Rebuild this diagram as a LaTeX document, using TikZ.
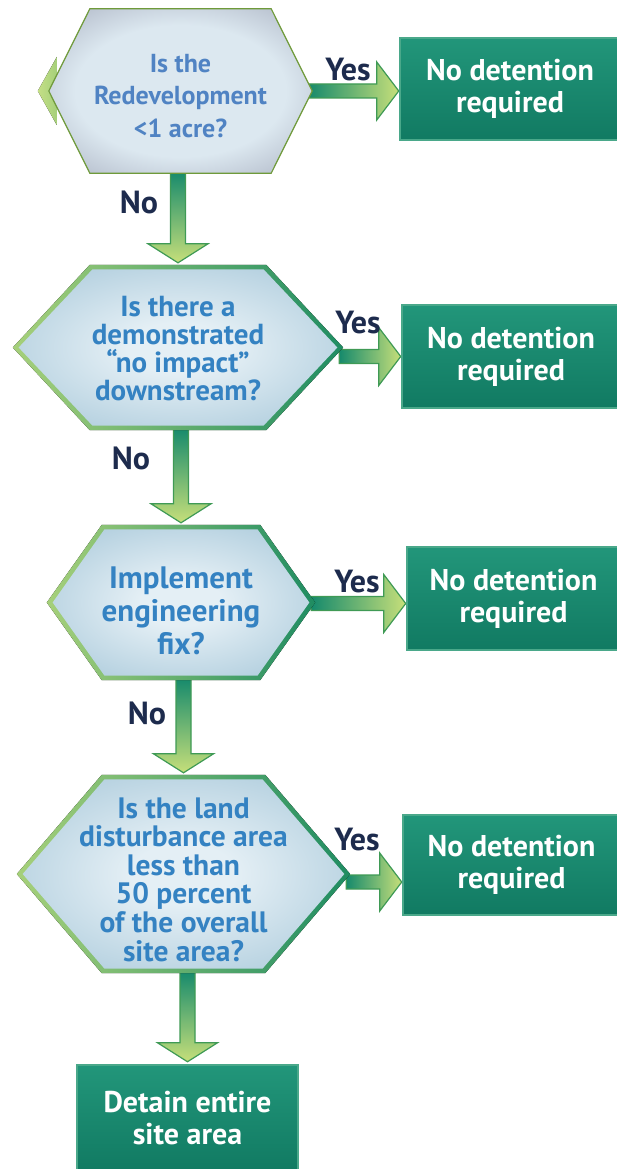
\documentclass[tikz,border=0pt]{standalone}
\usepackage{fontspec}
\setmainfont{PT Sans}
\usetikzlibrary{calc,backgrounds}
\definecolor{adark}{HTML}{168A6C}
\definecolor{alight}{HTML}{C6DF7A}
\definecolor{aedge}{HTML}{3F9A55}
\definecolor{hlgreen}{HTML}{A6D07A}
\definecolor{hsliver}{HTML}{C4DF86}
\definecolor{hteal}{HTML}{1F8C62}
\definecolor{hin}{HTML}{E4EFF5}
\definecolor{hout}{HTML}{A6C7D9}
\definecolor{honein}{HTML}{DCE8F0}
\definecolor{honeout}{HTML}{A4ABBC}
\definecolor{honeedge}{HTML}{6F9A3A}
\definecolor{btop}{HTML}{22967A}
\definecolor{bbot}{HTML}{117A62}
\definecolor{bedge}{HTML}{4AA88A}
\definecolor{qone}{HTML}{5083C3}
\definecolor{qblue}{HTML}{3482C2}
\definecolor{navy}{HTML}{1D2B4D}
\pgfdeclareradialshading{hexonefill}{\pgfpoint{0bp}{0bp}}{color(0bp)=(honein); color(20bp)=(honein); color(38bp)=(honeout); color(50bp)=(honeout)}
\pgfdeclareradialshading{hexfill}{\pgfpoint{0bp}{0bp}}{color(0bp)=(hin); color(8bp)=(hin); color(36bp)=(hout); color(50bp)=(hout)}
\newcommand{\hexpath}[3]{($(#1.west)+(#3*1.3,0)$) -- ($(#1.north west)+(#2+#3*0.6,#3)$) -- ($(#1.north east)+(-#2-#3*0.6,#3)$) -- ($(#1.east)+(-#3*1.3,0)$) -- ($(#1.south east)+(-#2-#3*0.6,-#3)$) -- ($(#1.south west)+(#2+#3*0.6,-#3)$) -- cycle}
\newcommand{\varrow}[2]{%
  \draw[arrowline, top color=adark, bottom color=alight]
    ($(#2.north |- #1.south)+(-7.5,-2)$) -- ($(#2.north)+(-7.5,-21)$) -- ($(#2.north)+(-30,-21)$) --
    ($(#2.north)+(0,-2)$) -- ($(#2.north)+(30,-21)$) -- ($(#2.north)+(7.5,-21)$) --
    ($(#2.north |- #1.south)+(7.5,-2)$) -- cycle;}
\newcommand{\harrow}[3]{%
  \draw[arrowline, left color=adark, right color=alight]
    ($(#1.east)+(-4,#3-7)$) -- ($(#2.west |- #1.east)+(-22,#3-7)$) -- ($(#2.west |- #1.east)+(-22,#3-29)$) --
    ($(#2.west |- #1.east)+(0,#3)$) -- ($(#2.west |- #1.east)+(-22,#3+29)$) -- ($(#2.west |- #1.east)+(-22,#3+7)$) --
    ($(#1.east)+(-4,#3+7)$) -- cycle;}
\begin{document}
\begin{tikzpicture}[x=1pt,y=-1pt,
  hexbox/.style={rectangle, inner sep=0pt},
  hextext/.style={inner sep=0pt, align=center, text=qblue},
  outbox/.style={rectangle, inner sep=0pt, align=center, draw=bedge, line width=2.5pt,
    top color=btop, bottom color=bbot, text=white,
    font=\bfseries\fontsize{30}{32}\selectfont},
  lbl/.style={font=\bfseries\fontsize{32}{32}\selectfont, text=navy, inner sep=0pt},
  arrowline/.style={draw=aedge, line width=1.2pt, line join=miter}]
\useasboundingbox (0,0) rectangle (616,1169);
% decision nodes
\node[hexbox, minimum width=263pt, minimum height=164pt,
  label={[hextext, text=qone, yshift=-5pt, font=\bfseries\fontsize{26}{32.5}\selectfont]center:Is the\\Redevelopment\\<1 acre?}]
  (h1) at (180.5,91) {};
\node[hexbox, minimum width=330pt, minimum height=165pt,
  label={[hextext, yshift=-1pt, font=\bfseries\fontsize{29}{28}\selectfont]center:Is there a\\demonstrated\\“no impact”\\downstream?}]
  (h2) at (178,347.5) {};
\node[hexbox, minimum width=268pt, minimum height=155pt,
  label={[hextext, yshift=-8pt, font=\bfseries\fontsize{31}{33}\selectfont]center:Implement\\engineering\\fix?}]
  (h3) at (181,602.5) {};
\node[hexbox, minimum width=333pt, minimum height=198pt,
  label={[hextext, yshift=-5.5pt, font=\bfseries\fontsize{29.5}{28.6}\selectfont]center:Is the land\\disturbance area\\less than\\50 percent\\of the overall\\site area?}]
  (h4) at (183.5,874) {};
% outcome boxes
\node[outbox, minimum width=220pt, minimum height=102pt] (b1) at (510,89) {No detention\\required};
\node[outbox, minimum width=218pt, minimum height=103pt] (b2) at (511,356.5) {No detention\\required};
\node[outbox, minimum width=213pt, minimum height=103pt] (b3) at (513.5,598.5) {No detention\\required};
\node[outbox, minimum width=217pt, minimum height=100pt] (b4) at (511.5,865) {No detention\\required};
\node[outbox, minimum width=221pt, minimum height=107pt] (b5) at (187.5,1118.5) {Detain entire\\site area};
% labels
\node[lbl] (y1) at (348,70) {Yes};
\node[lbl] (y2) at (358,323) {Yes};
\node[lbl] (y3) at (357,582) {Yes};
\node[lbl] (y4) at (357,840) {Yes};
\node[lbl] (n1) at (139,202) {No};
\node[lbl] (n2) at (131,458) {No};
\node[lbl] (n3) at (147,713) {No};
\begin{pgfonlayer}{background}
  % connectors
  \varrow{h1}{h2}
  \varrow{h2}{h3}
  \varrow{h3}{h4}
  \varrow{h4}{b5}
  \harrow{h1}{b1}{0}
  \harrow{h2}{b2}{9}
  \harrow{h3}{b3}{1}
  \harrow{h4}{b4}{8}
  % green sliver behind first hexagon
  \fill[left color=hsliver, right color=hlgreen] ($(h1.west)+(-11,0)$) -- ($(h1.west)+(8,-34)$) -- ($(h1.west)+(8,34)$) -- cycle;
  % hexagons
  \shade[shading=hexonefill] \hexpath{h1}{41}{0};
  \draw[honeedge, line width=1.2pt] \hexpath{h1}{41}{0};
  \foreach \h/\i in {h2/77, h3/55, h4/85} {
    \fill[left color=hlgreen, right color=hteal] \hexpath{\h}{\i}{0};
    \shade[shading=hexfill] \hexpath{\h}{\i}{4.5};
  }
\end{pgfonlayer}
\end{tikzpicture}
\end{document}
